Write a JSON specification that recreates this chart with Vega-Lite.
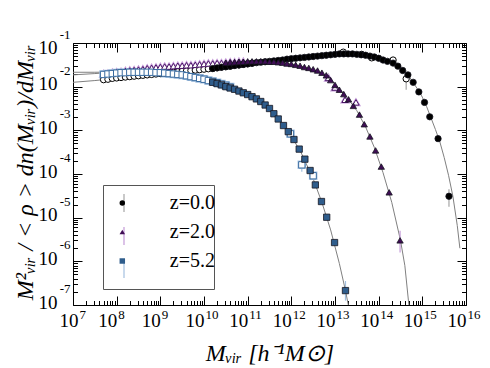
{
"$schema": "https://vega.github.io/schema/vega-lite/v6.json",
"width": 393, "height": 262,
"autosize": {"type": "none"},
"padding": {"left": 73, "top": 43, "right": 24, "bottom": 63},
"background": "white",
"config": {"view": {"stroke": "black", "strokeWidth": 1}, "font": "Liberation Serif",
  "style": {"guide-label": {"font": "Liberation Serif"}},
  "legend": {"labelFont": "Liberation Serif"},
  "axis": {"domain": false, "grid": false, "tickColor": "black", "labelColor": "black", "titleColor": "black", "labelFlush": false, "labelOverlap": false}},
"datasets": {
"fit": [
{"z":"z=0.0","M":1e7,"f":1.259e-2},{"z":"z=0.0","M":3.162e7,"f":1.38e-2},{"z":"z=0.0","M":1e8,"f":1.549e-2},{"z":"z=0.0","M":3.162e8,"f":1.738e-2},{"z":"z=0.0","M":1e9,"f":1.95e-2},{"z":"z=0.0","M":3.162e9,"f":2.188e-2},{"z":"z=0.0","M":1e10,"f":2.455e-2},{"z":"z=0.0","M":3.162e10,"f":2.818e-2},{"z":"z=0.0","M":1e11,"f":3.311e-2},{"z":"z=0.0","M":3.162e11,"f":3.802e-2},{"z":"z=0.0","M":1e12,"f":4.365e-2},{"z":"z=0.0","M":3.162e12,"f":4.898e-2},{"z":"z=0.0","M":1e13,"f":5.495e-2},{"z":"z=0.0","M":1.995e13,"f":5.69e-2},{"z":"z=0.0","M":3.981e13,"f":5.495e-2},{"z":"z=0.0","M":7.943e13,"f":5.012e-2},{"z":"z=0.0","M":1.259e14,"f":4.365e-2},{"z":"z=0.0","M":1.995e14,"f":3.548e-2},{"z":"z=0.0","M":3.162e14,"f":2.63e-2},{"z":"z=0.0","M":5.012e14,"f":1.698e-2},{"z":"z=0.0","M":7.943e14,"f":8.511e-3},{"z":"z=0.0","M":1e15,"f":5.754e-3},{"z":"z=0.0","M":1.259e15,"f":3.467e-3},{"z":"z=0.0","M":1.585e15,"f":1.905e-3},{"z":"z=0.0","M":1.995e15,"f":1.047e-3},{"z":"z=0.0","M":2.512e15,"f":5.495e-4},{"z":"z=0.0","M":3.162e15,"f":2.399e-4},{"z":"z=0.0","M":3.981e15,"f":9.333e-5},{"z":"z=0.0","M":5.012e15,"f":3.09e-5},{"z":"z=0.0","M":6.31e15,"f":6.607e-6},{"z":"z=0.0","M":7.244e15,"f":1.995e-6},
{"z":"z=2.0","M":1e7,"f":1.862e-2},{"z":"z=2.0","M":3.162e7,"f":1.995e-2},{"z":"z=2.0","M":1e8,"f":2.163e-2},{"z":"z=2.0","M":3.162e8,"f":2.455e-2},{"z":"z=2.0","M":1e9,"f":2.786e-2},{"z":"z=2.0","M":3.162e9,"f":3.055e-2},{"z":"z=2.0","M":1e10,"f":3.311e-2},{"z":"z=2.0","M":3.162e10,"f":3.548e-2},{"z":"z=2.0","M":1e11,"f":3.758e-2},{"z":"z=2.0","M":3.162e11,"f":3.758e-2},{"z":"z=2.0","M":1e12,"f":3.311e-2},{"z":"z=2.0","M":1.995e12,"f":2.818e-2},{"z":"z=2.0","M":3.981e12,"f":2.291e-2},{"z":"z=2.0","M":7.943e12,"f":1.445e-2},{"z":"z=2.0","M":1.259e13,"f":8.913e-3},{"z":"z=2.0","M":1.995e13,"f":5.248e-3},{"z":"z=2.0","M":3.162e13,"f":2.818e-3},{"z":"z=2.0","M":5.012e13,"f":1.202e-3},{"z":"z=2.0","M":7.943e13,"f":4.074e-4},{"z":"z=2.0","M":1.259e14,"f":1.072e-4},{"z":"z=2.0","M":1.995e14,"f":2.239e-5},{"z":"z=2.0","M":3.162e14,"f":3.02e-6},{"z":"z=2.0","M":3.981e14,"f":7.943e-7},{"z":"z=2.0","M":5.012e14,"f":8.318e-8},
{"z":"z=5.2","M":1e7,"f":2.138e-2},{"z":"z=5.2","M":3.162e7,"f":2.138e-2},{"z":"z=5.2","M":1e8,"f":2.163e-2},{"z":"z=5.2","M":3.162e8,"f":2.163e-2},{"z":"z=5.2","M":1e9,"f":2.089e-2},{"z":"z=5.2","M":3.162e9,"f":1.862e-2},{"z":"z=5.2","M":1e10,"f":1.479e-2},{"z":"z=5.2","M":3.162e10,"f":1.047e-2},{"z":"z=5.2","M":1e11,"f":6.607e-3},{"z":"z=5.2","M":1.995e11,"f":4.571e-3},{"z":"z=5.2","M":3.981e11,"f":2.399e-3},{"z":"z=5.2","M":7.943e11,"f":1.023e-3},{"z":"z=5.2","M":1.585e12,"f":3.467e-4},{"z":"z=5.2","M":3.162e12,"f":7.762e-5},{"z":"z=5.2","M":5.012e12,"f":2.239e-5},{"z":"z=5.2","M":7.943e12,"f":5.248e-6},{"z":"z=5.2","M":1.259e13,"f":8.913e-7},{"z":"z=5.2","M":1.738e13,"f":2.138e-7},{"z":"z=5.2","M":2.089e13,"f":8.318e-8}
],
"pts": [
{"z":"z=0.0","kind":"open","M":5.012e7,"f":1.445e-2},{"z":"z=0.0","kind":"open","M":6.31e7,"f":1.479e-2},{"z":"z=0.0","kind":"open","M":7.943e7,"f":1.549e-2},{"z":"z=0.0","kind":"open","M":1e8,"f":1.585e-2},{"z":"z=0.0","kind":"open","M":1.259e8,"f":1.622e-2},{"z":"z=0.0","kind":"open","M":1.585e8,"f":1.66e-2},{"z":"z=0.0","kind":"open","M":1.995e8,"f":1.698e-2},{"z":"z=0.0","kind":"open","M":2.512e8,"f":1.738e-2},{"z":"z=0.0","kind":"open","M":3.162e8,"f":1.778e-2},{"z":"z=0.0","kind":"open","M":3.981e8,"f":1.82e-2},{"z":"z=0.0","kind":"open","M":5.012e8,"f":1.862e-2},{"z":"z=0.0","kind":"open","M":6.31e8,"f":1.905e-2},{"z":"z=0.0","kind":"open","M":7.943e8,"f":1.95e-2},{"z":"z=0.0","kind":"open","M":1e9,"f":1.995e-2},{"z":"z=0.0","kind":"open","M":1.259e9,"f":2.042e-2},{"z":"z=0.0","kind":"open","M":1.585e9,"f":2.089e-2},{"z":"z=0.0","kind":"open","M":1.995e9,"f":2.138e-2},{"z":"z=0.0","kind":"open","M":2.512e9,"f":2.188e-2},{"z":"z=0.0","kind":"open","M":3.162e9,"f":2.239e-2},{"z":"z=0.0","kind":"open","M":3.981e9,"f":2.291e-2},{"z":"z=0.0","kind":"open","M":5.012e9,"f":2.344e-2},{"z":"z=0.0","kind":"open","M":6.31e9,"f":2.399e-2},{"z":"z=0.0","kind":"open","M":7.943e9,"f":2.455e-2},{"z":"z=0.0","kind":"open","M":1e10,"f":2.512e-2},{"z":"z=0.0","kind":"open","M":1.259e10,"f":2.57e-2},{"z":"z=0.0","kind":"open","M":1.585e10,"f":2.63e-2},{"z":"z=0.0","kind":"open","M":1.995e10,"f":2.72e-2},{"z":"z=0.0","kind":"open","M":2.512e10,"f":2.818e-2},{"z":"z=0.0","kind":"open","M":3.162e10,"f":2.884e-2},{"z":"z=0.0","kind":"open","M":3.981e10,"f":2.951e-2},{"z":"z=0.0","kind":"open","M":5.012e10,"f":3.09e-2},{"z":"z=0.0","kind":"open","M":6.31e10,"f":3.162e-2},{"z":"z=0.0","kind":"open","M":7.943e10,"f":3.236e-2},{"z":"z=0.0","kind":"open","M":1e11,"f":3.35e-2},{"z":"z=0.0","kind":"open","M":1.259e11,"f":3.467e-2},
{"z":"z=0.0","kind":"open","M":1.549e13,"f":6.166e-2},{"z":"z=0.0","kind":"open","M":4.074e13,"f":5.495e-2},{"z":"z=0.0","kind":"open","M":6.918e13,"f":4.571e-2},{"z":"z=0.0","kind":"open","M":2.138e14,"f":4.074e-2},{"z":"z=0.0","kind":"open","M":4.266e14,"f":1.514e-2,"lo":8.511e-3,"hi":2.239e-2},
{"z":"z=0.0","kind":"filled","M":1.585e10,"f":2.6e-2},{"z":"z=0.0","kind":"filled","M":1.995e10,"f":2.692e-2},{"z":"z=0.0","kind":"filled","M":2.512e10,"f":2.786e-2},{"z":"z=0.0","kind":"filled","M":3.162e10,"f":2.85e-2},{"z":"z=0.0","kind":"filled","M":3.981e10,"f":2.951e-2},{"z":"z=0.0","kind":"filled","M":5.012e10,"f":3.055e-2},{"z":"z=0.0","kind":"filled","M":6.31e10,"f":3.126e-2},{"z":"z=0.0","kind":"filled","M":7.943e10,"f":3.236e-2},{"z":"z=0.0","kind":"filled","M":1e11,"f":3.311e-2},{"z":"z=0.0","kind":"filled","M":1.259e11,"f":3.428e-2},{"z":"z=0.0","kind":"filled","M":1.585e11,"f":3.548e-2},{"z":"z=0.0","kind":"filled","M":1.995e11,"f":3.631e-2},{"z":"z=0.0","kind":"filled","M":2.512e11,"f":3.715e-2},{"z":"z=0.0","kind":"filled","M":3.162e11,"f":3.802e-2},{"z":"z=0.0","kind":"filled","M":3.981e11,"f":3.89e-2},{"z":"z=0.0","kind":"filled","M":5.012e11,"f":3.981e-2},{"z":"z=0.0","kind":"filled","M":6.31e11,"f":4.074e-2},{"z":"z=0.0","kind":"filled","M":7.943e11,"f":4.266e-2},{"z":"z=0.0","kind":"filled","M":1e12,"f":4.365e-2},{"z":"z=0.0","kind":"filled","M":1.259e12,"f":4.467e-2},{"z":"z=0.0","kind":"filled","M":1.585e12,"f":4.571e-2},{"z":"z=0.0","kind":"filled","M":1.995e12,"f":4.677e-2},{"z":"z=0.0","kind":"filled","M":2.512e12,"f":4.786e-2},{"z":"z=0.0","kind":"filled","M":3.162e12,"f":4.898e-2},{"z":"z=0.0","kind":"filled","M":3.981e12,"f":5.012e-2},{"z":"z=0.0","kind":"filled","M":5.012e12,"f":5.129e-2},{"z":"z=0.0","kind":"filled","M":6.31e12,"f":5.248e-2},{"z":"z=0.0","kind":"filled","M":7.943e12,"f":5.37e-2},{"z":"z=0.0","kind":"filled","M":1e13,"f":5.495e-2},{"z":"z=0.0","kind":"filled","M":1.259e13,"f":5.623e-2},{"z":"z=0.0","kind":"filled","M":1.585e13,"f":5.623e-2},{"z":"z=0.0","kind":"filled","M":1.995e13,"f":5.623e-2},{"z":"z=0.0","kind":"filled","M":2.512e13,"f":5.623e-2},{"z":"z=0.0","kind":"filled","M":3.162e13,"f":5.495e-2},{"z":"z=0.0","kind":"filled","M":3.981e13,"f":5.37e-2},{"z":"z=0.0","kind":"filled","M":5.012e13,"f":5.248e-2},{"z":"z=0.0","kind":"filled","M":6.31e13,"f":5.012e-2},{"z":"z=0.0","kind":"filled","M":7.943e13,"f":4.786e-2},{"z":"z=0.0","kind":"filled","M":1e14,"f":4.467e-2},{"z":"z=0.0","kind":"filled","M":1.259e14,"f":4.074e-2},{"z":"z=0.0","kind":"filled","M":1.585e14,"f":3.802e-2},{"z":"z=0.0","kind":"filled","M":2.138e14,"f":3.467e-2},{"z":"z=0.0","kind":"filled","M":2.754e14,"f":2.951e-2},{"z":"z=0.0","kind":"filled","M":3.548e14,"f":2.344e-2},{"z":"z=0.0","kind":"filled","M":4.677e14,"f":1.862e-2},{"z":"z=0.0","kind":"filled","M":6.166e14,"f":1.259e-2},{"z":"z=0.0","kind":"filled","M":8.318e14,"f":7.586e-3},{"z":"z=0.0","kind":"filled","M":1.122e15,"f":4.365e-3},{"z":"z=0.0","kind":"filled","M":1.479e15,"f":2.042e-3},{"z":"z=0.0","kind":"filled","M":2.291e15,"f":6.457e-4},{"z":"z=0.0","kind":"filled","M":4.074e15,"f":3.09e-5,"lo":1.778e-5,"hi":4.467e-5},
{"z":"z=2.0","kind":"open","M":5.012e7,"f":1.95e-2},{"z":"z=2.0","kind":"open","M":6.31e7,"f":1.995e-2},{"z":"z=2.0","kind":"open","M":7.943e7,"f":2.089e-2},{"z":"z=2.0","kind":"open","M":1e8,"f":2.138e-2},{"z":"z=2.0","kind":"open","M":1.259e8,"f":2.188e-2},{"z":"z=2.0","kind":"open","M":1.585e8,"f":2.291e-2},{"z":"z=2.0","kind":"open","M":1.995e8,"f":2.344e-2},{"z":"z=2.0","kind":"open","M":2.512e8,"f":2.399e-2},{"z":"z=2.0","kind":"open","M":3.162e8,"f":2.455e-2},{"z":"z=2.0","kind":"open","M":3.981e8,"f":2.512e-2},{"z":"z=2.0","kind":"open","M":5.012e8,"f":2.63e-2},{"z":"z=2.0","kind":"open","M":6.31e8,"f":2.692e-2},{"z":"z=2.0","kind":"open","M":7.943e8,"f":2.754e-2},{"z":"z=2.0","kind":"open","M":1e9,"f":2.818e-2},{"z":"z=2.0","kind":"open","M":1.259e9,"f":2.884e-2},{"z":"z=2.0","kind":"open","M":1.585e9,"f":2.884e-2},{"z":"z=2.0","kind":"open","M":1.995e9,"f":2.951e-2},{"z":"z=2.0","kind":"open","M":2.512e9,"f":3.02e-2},{"z":"z=2.0","kind":"open","M":3.162e9,"f":3.02e-2},{"z":"z=2.0","kind":"open","M":3.981e9,"f":3.09e-2},{"z":"z=2.0","kind":"open","M":5.012e9,"f":3.09e-2},{"z":"z=2.0","kind":"open","M":6.31e9,"f":3.162e-2},{"z":"z=2.0","kind":"open","M":7.943e9,"f":3.236e-2},{"z":"z=2.0","kind":"open","M":1e10,"f":3.311e-2},{"z":"z=2.0","kind":"open","M":1.259e10,"f":3.388e-2},{"z":"z=2.0","kind":"open","M":1.585e10,"f":3.388e-2},{"z":"z=2.0","kind":"open","M":1.995e10,"f":3.467e-2},{"z":"z=2.0","kind":"open","M":2.512e10,"f":3.467e-2},{"z":"z=2.0","kind":"open","M":3.162e10,"f":3.548e-2},{"z":"z=2.0","kind":"open","M":3.981e10,"f":3.631e-2},{"z":"z=2.0","kind":"open","M":5.012e10,"f":3.631e-2},{"z":"z=2.0","kind":"open","M":6.31e10,"f":3.715e-2},{"z":"z=2.0","kind":"open","M":7.943e10,"f":3.715e-2},
{"z":"z=2.0","kind":"open","M":7.079e12,"f":1.585e-2},{"z":"z=2.0","kind":"open","M":1e13,"f":9.55e-3},{"z":"z=2.0","kind":"open","M":1.698e13,"f":5.012e-3},{"z":"z=2.0","kind":"open","M":3.02e13,"f":4.365e-3},
{"z":"z=2.0","kind":"filled","M":3.162e10,"f":3.508e-2},{"z":"z=2.0","kind":"filled","M":3.981e10,"f":3.589e-2},{"z":"z=2.0","kind":"filled","M":5.012e10,"f":3.631e-2},{"z":"z=2.0","kind":"filled","M":6.31e10,"f":3.673e-2},{"z":"z=2.0","kind":"filled","M":7.943e10,"f":3.715e-2},{"z":"z=2.0","kind":"filled","M":1e11,"f":3.802e-2},{"z":"z=2.0","kind":"filled","M":1.259e11,"f":3.802e-2},{"z":"z=2.0","kind":"filled","M":1.585e11,"f":3.802e-2},{"z":"z=2.0","kind":"filled","M":1.995e11,"f":3.802e-2},{"z":"z=2.0","kind":"filled","M":2.512e11,"f":3.802e-2},{"z":"z=2.0","kind":"filled","M":3.162e11,"f":3.715e-2},{"z":"z=2.0","kind":"filled","M":3.981e11,"f":3.715e-2},{"z":"z=2.0","kind":"filled","M":5.012e11,"f":3.631e-2},{"z":"z=2.0","kind":"filled","M":6.31e11,"f":3.548e-2},{"z":"z=2.0","kind":"filled","M":7.943e11,"f":3.388e-2},{"z":"z=2.0","kind":"filled","M":1e12,"f":3.311e-2},{"z":"z=2.0","kind":"filled","M":1.259e12,"f":3.162e-2},{"z":"z=2.0","kind":"filled","M":1.585e12,"f":3.02e-2},{"z":"z=2.0","kind":"filled","M":1.995e12,"f":2.818e-2},{"z":"z=2.0","kind":"filled","M":2.512e12,"f":2.692e-2},{"z":"z=2.0","kind":"filled","M":3.162e12,"f":2.512e-2},{"z":"z=2.0","kind":"filled","M":3.981e12,"f":2.344e-2},{"z":"z=2.0","kind":"filled","M":5.012e12,"f":2.089e-2},{"z":"z=2.0","kind":"filled","M":6.31e12,"f":1.82e-2},{"z":"z=2.0","kind":"filled","M":7.943e12,"f":1.413e-2},{"z":"z=2.0","kind":"filled","M":1e13,"f":1.096e-2},{"z":"z=2.0","kind":"filled","M":1.259e13,"f":8.511e-3},{"z":"z=2.0","kind":"filled","M":1.585e13,"f":6.761e-3},{"z":"z=2.0","kind":"filled","M":2.042e13,"f":5.129e-3},{"z":"z=2.0","kind":"filled","M":2.63e13,"f":3.631e-3},{"z":"z=2.0","kind":"filled","M":3.631e13,"f":2.291e-3},{"z":"z=2.0","kind":"filled","M":4.677e13,"f":1.38e-3},{"z":"z=2.0","kind":"filled","M":6.31e13,"f":7.244e-4},{"z":"z=2.0","kind":"filled","M":8.511e13,"f":3.467e-4},{"z":"z=2.0","kind":"filled","M":1.148e14,"f":1.479e-4},{"z":"z=2.0","kind":"filled","M":1.738e14,"f":3.802e-5},{"z":"z=2.0","kind":"filled","M":3.09e14,"f":3.02e-6,"lo":1.585e-6,"hi":5.012e-6},
{"z":"z=5.2","kind":"open","M":5.012e7,"f":1.905e-2},{"z":"z=5.2","kind":"open","M":6.31e7,"f":1.95e-2},{"z":"z=5.2","kind":"open","M":7.943e7,"f":1.995e-2},{"z":"z=5.2","kind":"open","M":1e8,"f":2.042e-2},{"z":"z=5.2","kind":"open","M":1.259e8,"f":2.089e-2},{"z":"z=5.2","kind":"open","M":1.585e8,"f":2.089e-2},{"z":"z=5.2","kind":"open","M":1.995e8,"f":2.138e-2},{"z":"z=5.2","kind":"open","M":2.512e8,"f":2.138e-2},{"z":"z=5.2","kind":"open","M":3.162e8,"f":2.138e-2},{"z":"z=5.2","kind":"open","M":3.981e8,"f":2.138e-2},{"z":"z=5.2","kind":"open","M":5.012e8,"f":2.138e-2},{"z":"z=5.2","kind":"open","M":6.31e8,"f":2.138e-2},{"z":"z=5.2","kind":"open","M":7.943e8,"f":2.089e-2},{"z":"z=5.2","kind":"open","M":1e9,"f":2.089e-2},{"z":"z=5.2","kind":"open","M":1.259e9,"f":2.042e-2},{"z":"z=5.2","kind":"open","M":1.585e9,"f":1.995e-2},{"z":"z=5.2","kind":"open","M":1.995e9,"f":1.95e-2},{"z":"z=5.2","kind":"open","M":2.512e9,"f":1.905e-2},{"z":"z=5.2","kind":"open","M":3.162e9,"f":1.862e-2},{"z":"z=5.2","kind":"open","M":3.981e9,"f":1.778e-2},{"z":"z=5.2","kind":"open","M":5.012e9,"f":1.698e-2},{"z":"z=5.2","kind":"open","M":6.31e9,"f":1.622e-2},{"z":"z=5.2","kind":"open","M":7.943e9,"f":1.549e-2},{"z":"z=5.2","kind":"open","M":1e10,"f":1.479e-2},{"z":"z=5.2","kind":"open","M":1.259e10,"f":1.38e-2},{"z":"z=5.2","kind":"open","M":1.585e10,"f":1.318e-2},{"z":"z=5.2","kind":"open","M":1.995e10,"f":1.23e-2},{"z":"z=5.2","kind":"open","M":2.512e10,"f":1.148e-2},{"z":"z=5.2","kind":"open","M":3.162e10,"f":1.072e-2},{"z":"z=5.2","kind":"open","M":3.981e10,"f":9.772e-3},
{"z":"z=5.2","kind":"open","M":9.55e11,"f":8.318e-4},{"z":"z=5.2","kind":"open","M":1.738e12,"f":1.622e-4,"lo":1.122e-4,"hi":2.239e-4},{"z":"z=5.2","kind":"open","M":3.162e12,"f":9.12e-5},
{"z":"z=5.2","kind":"filled","M":1.585e10,"f":1.259e-2},{"z":"z=5.2","kind":"filled","M":1.995e10,"f":1.175e-2},{"z":"z=5.2","kind":"filled","M":2.512e10,"f":1.096e-2},{"z":"z=5.2","kind":"filled","M":3.162e10,"f":1e-2},{"z":"z=5.2","kind":"filled","M":3.981e10,"f":9.333e-3},{"z":"z=5.2","kind":"filled","M":5.012e10,"f":8.71e-3},{"z":"z=5.2","kind":"filled","M":6.31e10,"f":7.943e-3},{"z":"z=5.2","kind":"filled","M":7.943e10,"f":7.244e-3},{"z":"z=5.2","kind":"filled","M":1e11,"f":6.607e-3},{"z":"z=5.2","kind":"filled","M":1.259e11,"f":5.888e-3},{"z":"z=5.2","kind":"filled","M":1.585e11,"f":5.248e-3},{"z":"z=5.2","kind":"filled","M":1.995e11,"f":4.571e-3},{"z":"z=5.2","kind":"filled","M":2.512e11,"f":3.802e-3},{"z":"z=5.2","kind":"filled","M":3.162e11,"f":3.162e-3},{"z":"z=5.2","kind":"filled","M":3.981e11,"f":2.399e-3},{"z":"z=5.2","kind":"filled","M":5.012e11,"f":1.82e-3},{"z":"z=5.2","kind":"filled","M":6.607e11,"f":1.288e-3},{"z":"z=5.2","kind":"filled","M":8.511e11,"f":9.333e-4},{"z":"z=5.2","kind":"filled","M":1.148e12,"f":6.166e-4},{"z":"z=5.2","kind":"filled","M":1.514e12,"f":3.715e-4},{"z":"z=5.2","kind":"filled","M":2.042e12,"f":2.188e-4},{"z":"z=5.2","kind":"filled","M":2.692e12,"f":1.202e-4},{"z":"z=5.2","kind":"filled","M":3.548e12,"f":5.623e-5},{"z":"z=5.2","kind":"filled","M":4.898e12,"f":2.344e-5},{"z":"z=5.2","kind":"filled","M":6.457e12,"f":1.023e-5},{"z":"z=5.2","kind":"filled","M":9.772e12,"f":2.692e-6},{"z":"z=5.2","kind":"filled","M":1.738e13,"f":2.138e-7,"lo":1.259e-7,"hi":3.548e-7}
]
},
"layer": [
{
 "data": {"name": "fit"},
 "mark": {"type": "line", "color": "#808080", "strokeWidth": 1, "clip": true},
 "encoding": {
  "x": {"field": "M", "type": "quantitative", "scale": {"type": "log", "domain": [1e7, 1e16], "nice": false},
   "axis": {"orient": "bottom", "values": [1e7,1e8,1e9,1e10,1e11,1e12,1e13,1e14,1e15,1e16], "ticks": false, "tickSize": 0,
    "labelExpr": "'10'", "labelFont": "Liberation Serif", "labelFontSize": 19, "labelBaseline": "alphabetic", "labelAlign": "right", "labelPadding": 21.5,
    "labelOffset": {"condition": {"test": "datum.value < 2e7", "value": 5}, "value": 0},
    "title": "Mᵥᵢᵣ [h⁻¹M⊙]", "titleFont": "Liberation Serif", "titleFontSize": 24, "titleFontWeight": "normal", "titleFontStyle": "italic", "titleBaseline": "alphabetic", "titleY": 55}},
  "y": {"field": "f", "type": "quantitative", "scale": {"type": "log", "domain": [1e-7, 1e-1], "nice": false},
   "axis": {"orient": "left", "values": [1e-7,1e-6,1e-5,1e-4,1e-3,1e-2,1e-1], "ticks": false, "tickSize": 0,
    "labelExpr": "'10'", "labelFont": "Liberation Serif", "labelFontSize": 19, "labelBaseline": "alphabetic", "labelAlign": "right", "labelPadding": 16,
    "labelOffset": {"condition": {"test": "datum.value > 0.05", "value": 10.5}, "value": 3},
    "title": "M²ᵥᵢᵣ / < ρ > dn(Mᵥᵢᵣ)/dMᵥᵢᵣ", "titleFont": "Liberation Serif", "titleFontSize": 24, "titleFontWeight": "normal", "titleFontStyle": "italic", "titleAngle": -90, "titleAlign": "center", "titleBaseline": "alphabetic", "titleX": -41, "titleY": 129}},
  "detail": {"field": "z"}
 }
},
{
 "data": {"name": "pts"},
 "transform": [{"filter": "isValid(datum.lo)"}],
 "mark": {"type": "rule", "strokeWidth": 1.2},
 "encoding": {
  "x": {"field": "M", "type": "quantitative", "scale": {"type": "log", "domain": [1e7, 1e16], "nice": false},
   "axis": {"orient": "bottom", "values": [1e7,1e8,1e9,1e10,1e11,1e12,1e13,1e14,1e15,1e16], "ticks": false, "tickSize": 0,
    "labelExpr": "'' + round(log(datum.value)/LN10)", "labelFont": "Liberation Serif", "labelFontSize": 13, "labelBaseline": "alphabetic", "labelAlign": "left", "labelPadding": 13.5,
    "labelOffset": {"condition": {"test": "datum.value < 2e7", "value": 6}, "value": 1}, "title": null}},
  "y": {"field": "lo", "type": "quantitative", "scale": {"type": "log", "domain": [1e-7, 1e-1], "nice": false},
   "axis": {"orient": "left", "values": [1e-7,1e-6,1e-5,1e-4,1e-3,1e-2,1e-1], "ticks": false, "tickSize": 0,
    "labelExpr": "'-' + (-round(log(datum.value)/LN10))", "labelFont": "Liberation Serif", "labelFontSize": 13, "labelBaseline": "alphabetic", "labelAlign": "right", "labelPadding": 3,
    "labelOffset": {"condition": {"test": "datum.value > 0.05", "value": -5}, "value": -12.5}, "title": null}},
  "y2": {"field": "hi"},
  "stroke": {"field": "z", "type": "nominal", "scale": {"domain": ["z=0.0","z=2.0","z=5.2","zz"], "range": ["#a5a5a5","#c49ad8","#a3c0df","#ffffff"]},
   "legend": {"orient": "none", "legendX": 30, "legendY": 142, "title": null, "values": ["z=0.0","z=2.0","z=5.2"], "zindex": 0,
    "padding": 8, "strokeColor": "#555555", "fillColor": "white", "cornerRadius": 0,
    "symbolType": "M0,-1V1", "symbolSize": 324, "symbolStrokeWidth": 1.2, "symbolOffset": 3, "labelOffset": 72, "labelExpr": "''",
    "labelFont": "Liberation Serif", "labelFontSize": 20, "rowPadding": 9}}
 }
},
{
 "data": {"name": "pts"},
 "transform": [{"filter": "datum.kind === 'open' && datum.z !== 'z=0.0'"}],
 "mark": {"type": "point", "filled": false, "strokeWidth": 2.2, "size": 40, "opacity": 1},
 "encoding": {
  "x": {"field": "M", "type": "quantitative", "scale": {"type": "log", "domain": [1e7, 1e16], "nice": false},
   "axis": {"orient": "bottom", "values": [1e7,1e8,1e9,1e10,1e11,1e12,1e13,1e14,1e15,1e16], "labels": false, "tickSize": -9, "title": null}},
  "y": {"field": "f", "type": "quantitative", "scale": {"type": "log", "domain": [1e-7, 1e-1], "nice": false},
   "axis": {"orient": "left", "values": [1e-7,1e-6,1e-5,1e-4,1e-3,1e-2,1e-1], "labels": false, "tickSize": -9, "title": null}},
  "shape": {"field": "z", "type": "nominal", "scale": {"domain": ["z=0.0","z=2.0","z=5.2"], "range": ["circle","triangle-up","square"]}},
  "stroke": {"field": "z", "type": "nominal", "scale": {"domain": ["z=0.0","z=2.0","z=5.2","zz"], "range": ["#a5a5a5","#c49ad8","#a3c0df","#ffffff"]}}
 }
},
{
 "data": {"name": "pts"},
 "transform": [{"filter": "datum.kind === 'open' && datum.z === 'z=0.0'"}],
 "mark": {"type": "point", "filled": false, "fill": "white", "fillOpacity": 1, "strokeWidth": 1, "size": 40, "opacity": 1},
 "encoding": {
  "x": {"field": "M", "type": "quantitative", "scale": {"type": "log", "domain": [1e7, 1e16], "nice": false},
   "axis": {"orient": "bottom", "values": [2e7,3e7,4e7,5e7,6e7,7e7,8e7,9e7,2e8,3e8,4e8,5e8,6e8,7e8,8e8,9e8,2e9,3e9,4e9,5e9,6e9,7e9,8e9,9e9,2e10,3e10,4e10,5e10,6e10,7e10,8e10,9e10,2e11,3e11,4e11,5e11,6e11,7e11,8e11,9e11,2e12,3e12,4e12,5e12,6e12,7e12,8e12,9e12,2e13,3e13,4e13,5e13,6e13,7e13,8e13,9e13,2e14,3e14,4e14,5e14,6e14,7e14,8e14,9e14,2e15,3e15,4e15,5e15,6e15,7e15,8e15,9e15], "labels": false, "tickSize": -4.5, "title": null}},
  "y": {"field": "f", "type": "quantitative", "scale": {"type": "log", "domain": [1e-7, 1e-1], "nice": false},
   "axis": {"orient": "left", "values": [2e-7,3e-7,4e-7,5e-7,6e-7,7e-7,8e-7,9e-7,2e-6,3e-6,4e-6,5e-6,6e-6,7e-6,8e-6,9e-6,2e-5,3e-5,4e-5,5e-5,6e-5,7e-5,8e-5,9e-5,2e-4,3e-4,4e-4,5e-4,6e-4,7e-4,8e-4,9e-4,2e-3,3e-3,4e-3,5e-3,6e-3,7e-3,8e-3,9e-3,2e-2,3e-2,4e-2,5e-2,6e-2,7e-2,8e-2,9e-2], "labels": false, "tickSize": -4.5, "title": null}},
  "shape": {"field": "z", "type": "nominal", "scale": {"domain": ["z=0.0","z=2.0","z=5.2"], "range": ["circle","triangle-up","square"]}},
  "color": {"field": "z", "type": "nominal", "scale": {"domain": ["z=5.2","z=0.0","z=2.0"], "range": ["#3a6ca0","#000000","#4a1566"]}, "legend": null}
 }
},
{
 "data": {"name": "pts"},
 "transform": [{"filter": "datum.kind === 'open' && datum.z !== 'z=0.0'"}],
 "mark": {"type": "point", "filled": false, "fill": "white", "fillOpacity": 1, "strokeWidth": 1, "size": 40, "opacity": 1},
 "encoding": {
  "x": {"field": "M", "type": "quantitative", "scale": {"type": "log", "domain": [1e7, 1e16], "nice": false},
   "axis": {"orient": "top", "values": [1e7,1e8,1e9,1e10,1e11,1e12,1e13,1e14,1e15,1e16], "labels": false, "tickSize": -9, "title": null}},
  "y": {"field": "f", "type": "quantitative", "scale": {"type": "log", "domain": [1e-7, 1e-1], "nice": false},
   "axis": {"orient": "right", "values": [1e-7,1e-6,1e-5,1e-4,1e-3,1e-2,1e-1], "labels": false, "tickSize": -9, "title": null}},
  "shape": {"field": "z", "type": "nominal", "scale": {"domain": ["z=0.0","z=2.0","z=5.2"], "range": ["circle","triangle-up","square"]}},
  "color": {"field": "z", "type": "nominal", "scale": {"domain": ["z=5.2","z=0.0","z=2.0"], "range": ["#3a6ca0","#000000","#4a1566"]}, "legend": null}
 }
},
{
 "data": {"name": "pts"},
 "transform": [{"filter": "datum.kind === 'filled'"}],
 "mark": {"type": "point", "filled": true, "stroke": "#15151f", "strokeWidth": 0.8, "size": 40, "opacity": 1},
 "encoding": {
  "x": {"field": "M", "type": "quantitative", "scale": {"type": "log", "domain": [1e7, 1e16], "nice": false},
   "axis": {"orient": "top", "values": [2e7,3e7,4e7,5e7,6e7,7e7,8e7,9e7,2e8,3e8,4e8,5e8,6e8,7e8,8e8,9e8,2e9,3e9,4e9,5e9,6e9,7e9,8e9,9e9,2e10,3e10,4e10,5e10,6e10,7e10,8e10,9e10,2e11,3e11,4e11,5e11,6e11,7e11,8e11,9e11,2e12,3e12,4e12,5e12,6e12,7e12,8e12,9e12,2e13,3e13,4e13,5e13,6e13,7e13,8e13,9e13,2e14,3e14,4e14,5e14,6e14,7e14,8e14,9e14,2e15,3e15,4e15,5e15,6e15,7e15,8e15,9e15], "labels": false, "tickSize": -4.5, "title": null}},
  "y": {"field": "f", "type": "quantitative", "scale": {"type": "log", "domain": [1e-7, 1e-1], "nice": false},
   "axis": {"orient": "right", "values": [2e-7,3e-7,4e-7,5e-7,6e-7,7e-7,8e-7,9e-7,2e-6,3e-6,4e-6,5e-6,6e-6,7e-6,8e-6,9e-6,2e-5,3e-5,4e-5,5e-5,6e-5,7e-5,8e-5,9e-5,2e-4,3e-4,4e-4,5e-4,6e-4,7e-4,8e-4,9e-4,2e-3,3e-3,4e-3,5e-3,6e-3,7e-3,8e-3,9e-3,2e-2,3e-2,4e-2,5e-2,6e-2,7e-2,8e-2,9e-2], "labels": false, "tickSize": -4.5, "title": null}},
  "shape": {"field": "z", "type": "nominal", "scale": {"domain": ["z=0.0","z=2.0","z=5.2"], "range": ["circle","triangle-up","square"]}},
  "fill": {"field": "z", "type": "nominal", "scale": {"domain": ["z=0.0","z=2.0","z=5.2"], "range": ["#000000","#3f0d55","#2f5d8c"]},
   "legend": {"orient": "none", "legendX": 22, "legendY": 142, "title": null, "zindex": 1, "padding": 8, "strokeColor": "transparent", "fillColor": "transparent", "cornerRadius": 0,
    "symbolSize": 30, "symbolStrokeWidth": 0.8, "symbolOffset": 9.3, "labelOffset": 37.5, "labelFont": "Liberation Serif", "labelFontSize": 20, "labelColor": "black", "rowPadding": 9}}
 }
}
],
"resolve": {"axis": {"x": "independent", "y": "independent"}}
}
